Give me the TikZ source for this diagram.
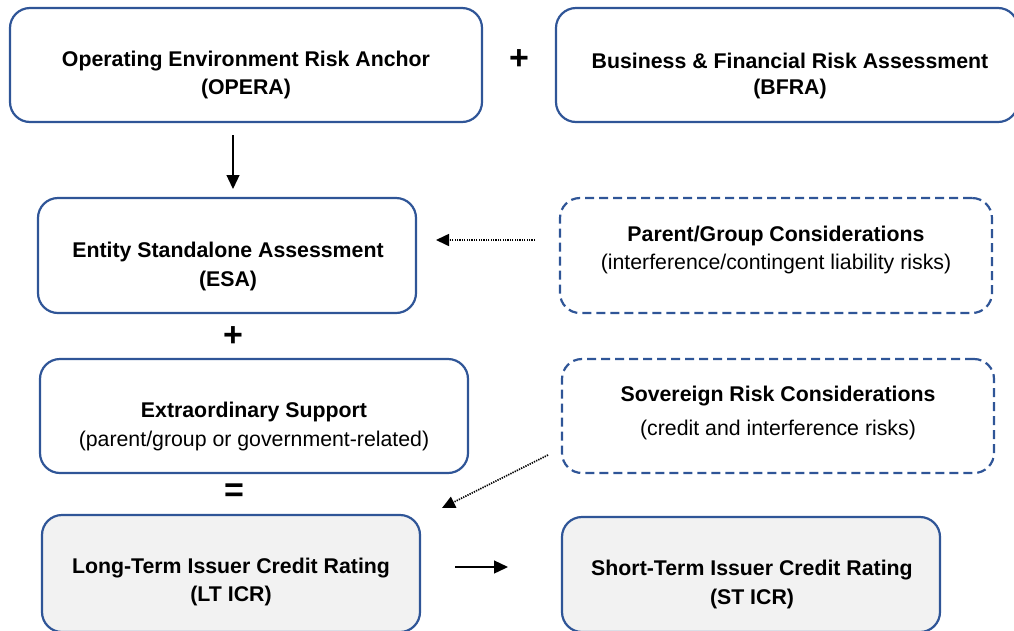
\documentclass[tikz,border=0pt]{standalone}
\usepackage{fontspec}
\setmainfont{Liberation Sans}
\usetikzlibrary{arrows.meta}
\definecolor{boxblue}{HTML}{2F5597}
\definecolor{boxgray}{HTML}{F2F2F2}
\begin{document}
\begin{tikzpicture}[x=1pt,y=-1pt,
  box/.style={draw=boxblue,line width=2.2pt,rounded corners=20pt,inner sep=0pt},
  dbox/.style={box,dash pattern=on 9pt off 5pt},
  gbox/.style={box,fill=boxgray},
  bt/.style={font=\fontsize{21.3}{28}\selectfont\bfseries,align=center,inner sep=0pt,yshift=-2pt},
  nt/.style={font=\fontsize{21.3}{28}\selectfont,align=center,inner sep=0pt,yshift=-2pt},
  sym/.style={font=\fontsize{34}{34}\selectfont\bfseries,inner sep=0pt},
  arr/.style={line width=1.3pt,-{Triangle[length=14pt,width=13pt]}},
  darr/.style={line width=1.6pt,dash pattern=on 1.3pt off 1.1pt,-{Triangle[length=13pt,width=12pt]}}]
\useasboundingbox (0,0) rectangle (1014,630);
% boxes
\node[box,minimum width=472pt,minimum height=114pt] (opera) at (246,65) {};
\node[box,minimum width=462pt,minimum height=114pt] (bfra) at (787,65) {};
\node[box,minimum width=378pt,minimum height=115pt] (esa) at (227,255.5) {};
\node[dbox,minimum width=432pt,minimum height=115pt] (pg) at (776,255.5) {};
\node[box,minimum width=428pt,minimum height=114pt] (es) at (254,416) {};
\node[dbox,minimum width=432pt,minimum height=114pt] (sov) at (778,416) {};
\node[gbox,minimum width=378pt,minimum height=117pt] (lt) at (231,573.5) {};
\node[gbox,minimum width=378pt,minimum height=115pt] (st) at (751,574.5) {};
% texts
\node[bt] (operat) at (246,59) {Operating Environment Risk Anchor};
\node[bt] (operat2) at (246,87) {(OPERA)};
\node[bt] (bfrat) at (790,59) {Business \& Financial Risk Assessment};
\node[bt] (bfrat2) at (790,87) {(BFRA)};
\node[bt] (esat) at (228,250) {Entity Standalone Assessment};
\node[bt] (esat2) at (228,279) {(ESA)};
\node[bt] (pgt) at (776,234) {Parent/Group Considerations};
\node[nt] (pgt2) at (776,262) {(interference/contingent liability risks)};
\node[bt] (est) at (254,410) {Extraordinary Support};
\node[nt] (est2) at (254,439) {(parent/group or government-related)};
\node[bt] (sovt) at (778,394) {Sovereign Risk Considerations};
\node[nt] (sovt2) at (778,428) {(credit and interference risks)};
\node[bt] (ltt) at (231,566) {Long-Term Issuer Credit Rating};
\node[bt] (ltt2) at (231,594) {(LT ICR)};
\node[bt] (stt) at (752,568) {Short-Term Issuer Credit Rating};
\node[bt] (stt2) at (752,597) {(ST ICR)};
% symbols
\node[sym] (plus1) at (519,60) {+};
\node[sym] (plus2) at (233,337) {+};
\node[sym] (eq) at (234,493) {=};
% connectors
\coordinate (a1s) at (233,135);
\coordinate (a1e) at (233,189);
\draw[arr] (a1s) -- (a1e);
\coordinate (d1s) at (535,240);
\coordinate (d1e) at (436,240);
\draw[darr] (d1s) -- (d1e);
\coordinate (d2s) at (548,455);
\coordinate (d2e) at (442,508);
\draw[darr] (d2s) -- (d2e);
\coordinate (a2s) at (455,567);
\coordinate (a2e) at (508,567);
\draw[arr] (a2s) -- (a2e);
\end{tikzpicture}
\end{document}
